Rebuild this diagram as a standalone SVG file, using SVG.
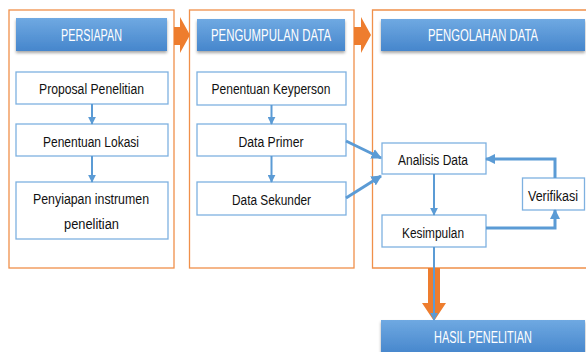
<svg xmlns="http://www.w3.org/2000/svg" width="586" height="352" viewBox="0 0 586 352">
<defs>
<linearGradient id="hg" x1="0" y1="0" x2="0" y2="1">
<stop offset="0" stop-color="#6fa9e2"/>
<stop offset="1" stop-color="#4686cc"/>
</linearGradient>
<filter id="sh" x="-10%" y="-20%" width="120%" height="160%">
<feDropShadow dx="0" dy="2" stdDeviation="1.5" flood-color="#000" flood-opacity="0.35"/>
</filter>
<marker id="ah" viewBox="0 0 10 10" refX="9" refY="5" markerWidth="4" markerHeight="4" orient="auto" markerUnits="strokeWidth">
<path d="M0,0 L10,5 L0,10 z" fill="#5b9bd5"/>
</marker>
<marker id="ah2" viewBox="0 0 10 10" refX="9" refY="5" markerWidth="3.5" markerHeight="3.5" orient="auto" markerUnits="strokeWidth">
<path d="M0,0 L10,5 L0,10 z" fill="#5b9bd5"/>
</marker>
</defs>
<style>
.panel{fill:#fff;stroke:#f0904a;stroke-width:1.3}
.hdr{fill:url(#hg);filter:url(#sh)}
.box{fill:#fff;stroke:#7eb1e0;stroke-width:1.3}
.ht{font-family:"Liberation Sans",Arial,sans-serif;font-size:16px;fill:#fff;text-anchor:middle}
.bt{font-family:"Liberation Sans",Arial,sans-serif;font-size:15.5px;fill:#111;text-anchor:middle}
.c{fill:none;stroke:#5b9bd5;stroke-width:2}
.c3{fill:none;stroke:#5b9bd5;stroke-width:3}
.oa{fill:#ee7d2e}
</style>
<rect width="586" height="352" fill="#fff"/>

<g id="panel-persiapan">
<rect class="panel" x="9" y="10" width="165" height="258"/>
</g>
<g id="panel-pengumpulan">
<rect class="panel" x="189.5" y="10" width="164.5" height="258"/>
</g>
<g id="panel-pengolahan">
<path class="panel" d="M586,10 L372.5,10 L372.5,268 L586,268"/>
</g>

<g id="big-arrows">
<path class="oa" d="M174,27 L180,27 L180,17 L190,35 L180,53 L180,45 L174,45 z"/>
<path class="oa" d="M354,27 L361,27 L361,17 L371,35 L361,53 L361,45 L354,45 z"/>
<path class="oa" d="M428,268 L440,268 L440,303 L446,303 L434,321 L422,303 L428,303 z"/>
</g>

<g id="hdr-persiapan">
<rect class="hdr" x="16" y="18" width="151" height="33"/>
<text class="ht" x="91.5" y="41" textLength="61" lengthAdjust="spacingAndGlyphs">PERSIAPAN</text>
</g>
<g id="hdr-pengumpulan">
<rect class="hdr" x="197" y="19" width="148" height="32"/>
<text class="ht" x="271" y="41" textLength="120" lengthAdjust="spacingAndGlyphs">PENGUMPULAN DATA</text>
</g>
<g id="hdr-pengolahan">
<rect class="hdr" x="381" y="19" width="204" height="32"/>
<text class="ht" x="483" y="41" textLength="110" lengthAdjust="spacingAndGlyphs">PENGOLAHAN DATA</text>
</g>
<g id="hdr-hasil">
<rect class="hdr" x="381" y="320" width="204" height="34"/>
<text class="ht" x="483" y="343" textLength="98" lengthAdjust="spacingAndGlyphs">HASIL PENELITIAN</text>
</g>

<g id="proposal">
<rect class="box" x="16" y="72" width="152" height="32"/>
<text class="bt" x="91.5" y="94" textLength="105" lengthAdjust="spacingAndGlyphs">Proposal Penelitian</text>
</g>
<g id="lokasi">
<rect class="box" x="16" y="124" width="152" height="32"/>
<text class="bt" x="91" y="146.5" textLength="96" lengthAdjust="spacingAndGlyphs">Penentuan Lokasi</text>
</g>
<g id="instrumen">
<rect class="box" x="16" y="182" width="152" height="57"/>
<text class="bt" x="91" y="204" textLength="116" lengthAdjust="spacingAndGlyphs">Penyiapan instrumen</text>
<text class="bt" x="91.5" y="228.5" textLength="55" lengthAdjust="spacingAndGlyphs">penelitian</text>
</g>

<g id="keyperson">
<rect class="box" x="197" y="72" width="149" height="33"/>
<text class="bt" x="271" y="94" textLength="119" lengthAdjust="spacingAndGlyphs">Penentuan Keyperson</text>
</g>
<g id="primer">
<rect class="box" x="197" y="124" width="149" height="32"/>
<text class="bt" x="271" y="146.5" textLength="65" lengthAdjust="spacingAndGlyphs">Data Primer</text>
</g>
<g id="sekunder">
<rect class="box" x="197" y="182" width="149" height="33"/>
<text class="bt" x="271.5" y="204.5" textLength="79" lengthAdjust="spacingAndGlyphs">Data Sekunder</text>
</g>

<g id="analisis">
<rect class="box" x="382" y="143" width="104" height="31"/>
<text class="bt" x="433" y="164.5" textLength="70" lengthAdjust="spacingAndGlyphs">Analisis Data</text>
</g>
<g id="kesimpulan">
<rect class="box" x="382" y="215" width="104" height="32"/>
<text class="bt" x="433" y="237.5" textLength="62" lengthAdjust="spacingAndGlyphs">Kesimpulan</text>
</g>
<g id="verifikasi">
<rect class="box" x="522.5" y="178" width="62" height="32"/>
<text class="bt" x="553" y="200.5" style="font-size:14px" textLength="50" lengthAdjust="spacingAndGlyphs">Verifikasi</text>
</g>

<g id="connectors">
<line class="c" x1="92" y1="104" x2="92" y2="124" marker-end="url(#ah)"/>
<line class="c" x1="92" y1="156" x2="92" y2="182" marker-end="url(#ah)"/>
<line class="c" x1="271.5" y1="105" x2="271.5" y2="124" marker-end="url(#ah)"/>
<line class="c" x1="271.5" y1="156" x2="271.5" y2="182" marker-end="url(#ah)"/>
<line class="c3" x1="346" y1="141" x2="381" y2="158" marker-end="url(#ah2)"/>
<line class="c3" x1="346" y1="198" x2="381" y2="176" marker-end="url(#ah2)"/>
<line class="c" x1="434" y1="174" x2="434" y2="215" marker-end="url(#ah)"/>
<polyline class="c3" points="486,228 555,228 555,210" marker-end="url(#ah2)"/>
<polyline class="c3" points="555,178 555,159 486,159" marker-end="url(#ah2)"/>
<line class="c" x1="434" y1="247" x2="434" y2="320" marker-end="url(#ah)"/>
</g>
</svg>
